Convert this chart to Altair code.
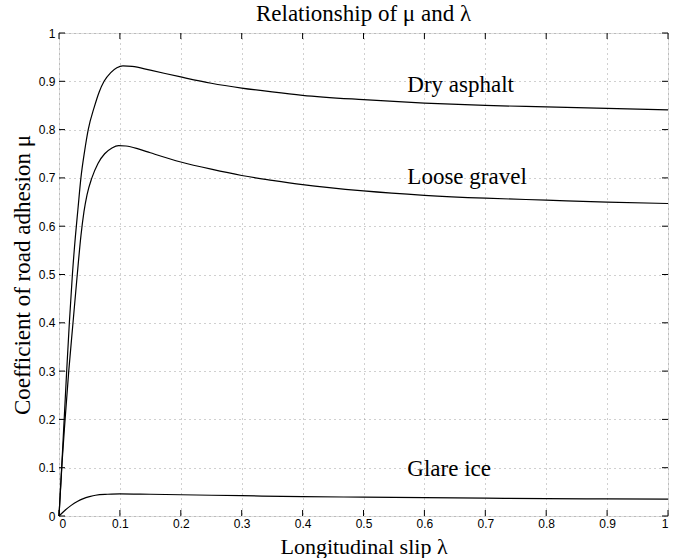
import altair as alt
import pandas as pd

# ---- data ----
x_ticks = [0, 0.1, 0.2, 0.3, 0.4, 0.5, 0.6, 0.7, 0.8, 0.9, 1.0]
y_ticks = [0, 0.1, 0.2, 0.3, 0.4, 0.5, 0.6, 0.7, 0.8, 0.9, 1.0]

dry_lam = [0, 0.005, 0.0126, 0.017, 0.022, 0.027, 0.031, 0.036, 0.042, 0.048, 0.058,
           0.066, 0.074, 0.085, 0.095, 0.105, 0.12, 0.15, 0.2, 0.25, 0.3, 0.35, 0.4,
           0.5, 0.6, 0.7, 0.8, 0.9, 1.0]
dry_mu = [0, 0.115, 0.30, 0.40, 0.50, 0.58, 0.634, 0.70, 0.755, 0.80, 0.847,
          0.878, 0.90, 0.918, 0.928, 0.932, 0.931, 0.923, 0.909, 0.896, 0.886, 0.878, 0.871,
          0.862, 0.855, 0.850, 0.847, 0.844, 0.841]

gravel_lam = [0, 0.005, 0.010, 0.016, 0.023, 0.030, 0.036, 0.041, 0.046, 0.054, 0.064,
              0.075, 0.087, 0.098, 0.11, 0.13, 0.15, 0.2, 0.25, 0.3, 0.35, 0.4, 0.5,
              0.6, 0.7, 0.8, 0.9, 1.0]
gravel_mu = [0, 0.11, 0.20, 0.30, 0.40, 0.50, 0.58, 0.63, 0.665, 0.70, 0.73,
             0.75, 0.762, 0.767, 0.766, 0.76, 0.752, 0.733, 0.718, 0.705, 0.695, 0.686, 0.673,
             0.664, 0.658, 0.654, 0.650, 0.647]

ice_lam = [0, 0.01, 0.02, 0.03, 0.04, 0.05, 0.06, 0.08, 0.1, 0.15, 0.2, 0.3, 0.4,
           0.5, 0.6, 0.7, 0.8, 0.9, 1.0]
ice_mu = [0, 0.012, 0.022, 0.030, 0.036, 0.040, 0.043, 0.045, 0.046, 0.045, 0.044, 0.042, 0.040,
          0.039, 0.038, 0.037, 0.036, 0.0355, 0.035]

labels = ["Dry asphalt", "Loose gravel", "Glare ice"]
label_lam = [0.572, 0.572, 0.572]
label_mu = [0.892, 0.702, 0.097]

# ---- tables ----
rows = []
for name, lams, mus in [("Dry asphalt", dry_lam, dry_mu),
                        ("Loose gravel", gravel_lam, gravel_mu),
                        ("Glare ice", ice_lam, ice_mu)]:
    for l, m in zip(lams, mus):
        rows.append({"series": name, "lam": l, "mu": m})
curves = pd.DataFrame(rows)
lab_df = pd.DataFrame({"label": labels, "lam": label_lam, "mu": label_mu})
xt_df = pd.DataFrame({"v": x_ticks})
yt_df = pd.DataFrame({"v": y_ticks})

serif = "Liberation Serif"
sans = "Liberation Sans"
xs = alt.Scale(domain=[0, 1], nice=False, zero=False)
ys = alt.Scale(domain=[0, 1], nice=False, zero=False)

x_axis = alt.Axis(values=x_ticks, format="~g", grid=True, gridDash=[1, 4], gridColor="#888",
                  gridWidth=0.8, ticks=False, domain=False, labelFont=sans, labelFontSize=12,
                  labelPadding=2, labelColor="black", title="Longitudinal slip λ",
                  titleFont=serif, titleFontSize=22, titleFontWeight="normal",
                  titleColor="black", titleBaseline="alphabetic", titleY=37)
y_axis = alt.Axis(values=y_ticks, format="~g", grid=True, gridDash=[1, 4], gridColor="#888",
                  gridWidth=0.8, ticks=False, domain=False, labelFont=sans, labelFontSize=12,
                  labelPadding=4, labelColor="black", title="Coefficient of road adhesion μ",
                  titleFont=serif, titleFontSize=23, titleFontWeight="normal",
                  titleColor="black", titleBaseline="alphabetic", titleX=-30, titleY=241.5,
                  titleAngle=270, titleAlign="center")

lines = alt.Chart(curves).mark_line(color="black", strokeWidth=1.2, interpolate="monotone").encode(
    x=alt.X("lam:Q", scale=xs, axis=x_axis),
    y=alt.Y("mu:Q", scale=ys, axis=y_axis),
    detail="series:N",
    order="lam:Q",
)

texts = alt.Chart(lab_df).mark_text(font=serif, fontSize=23, align="left", baseline="middle",
                                    color="black").encode(
    x=alt.X("lam:Q", scale=xs, axis=x_axis),
    y=alt.Y("mu:Q", scale=ys, axis=y_axis),
    text="label:N",
)

tick_style = dict(color="black", strokeWidth=1)
xt_bot = alt.Chart(xt_df).mark_rule(**tick_style).encode(
    x=alt.X("v:Q", scale=xs, axis=x_axis), y=alt.value(483), y2=alt.value(477))
xt_top = alt.Chart(xt_df).mark_rule(**tick_style).encode(
    x=alt.X("v:Q", scale=xs, axis=x_axis), y=alt.value(0), y2=alt.value(6))
yt_left = alt.Chart(yt_df).mark_rule(**tick_style).encode(
    y=alt.Y("v:Q", scale=ys, axis=y_axis), x=alt.value(0), x2=alt.value(6))
yt_right = alt.Chart(yt_df).mark_rule(**tick_style).encode(
    y=alt.Y("v:Q", scale=ys, axis=y_axis), x=alt.value(609), x2=alt.value(603))

chart = alt.layer(lines, texts, xt_bot, xt_top, yt_left, yt_right).properties(
    width=609,
    height=483,
    autosize=alt.AutoSizeParams(type="none"),
    padding={"left": 59, "top": 33, "right": 8, "bottom": 42},
    title=alt.Title("Relationship of μ and λ", font=serif, fontSize=23, fontWeight="normal",
                    color="black", offset=1, anchor="middle"),
).configure_view(stroke="black", strokeWidth=1.2).configure(background="white")

chart.save("out.html", embed_options={"renderer": "svg", "actions": False})
